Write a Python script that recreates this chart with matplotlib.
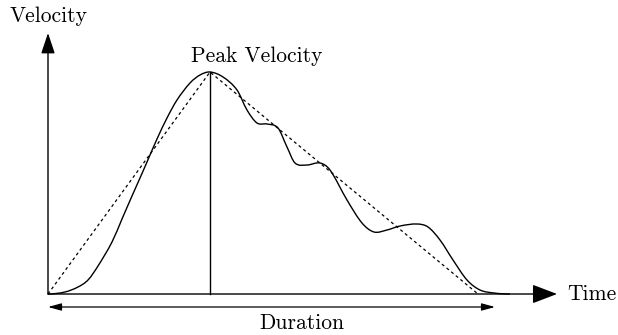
import numpy as np
import matplotlib
matplotlib.use("Agg")
import matplotlib.pyplot as plt
from matplotlib.path import Path
from matplotlib.patches import PathPatch, FancyArrowPatch

plt.rcParams['font.family'] = ['cmr10', 'DejaVu Serif']
plt.rcParams['mathtext.fontset'] = 'cm'
plt.rcParams['axes.unicode_minus'] = False

# Velocity profile of a movement (time, velocity) in arbitrary units
time = [0.00, 0.17, 0.30, 0.40, 0.50, 0.64, 0.74, 0.84, 0.92, 0.99, 1.09,
        1.19, 1.29, 1.42, 1.52, 1.62,
        1.75, 1.89, 1.99, 2.09, 2.19, 2.30, 2.39, 2.47, 2.59, 2.72, 2.82,
        2.99, 3.14, 3.26, 3.39, 3.52, 3.69, 3.80, 3.92, 4.05, 4.19, 4.32,
        4.46, 4.62]
velocity = [0.00, 0.02, 0.07, 0.14, 0.28, 0.52, 0.75, 0.98, 1.16, 1.32, 1.55,
            1.76, 1.94, 2.11, 2.19, 2.22,
            2.17, 2.04, 1.84, 1.71, 1.70, 1.66, 1.47, 1.31, 1.29, 1.31, 1.24,
            0.94, 0.71, 0.62, 0.64, 0.68, 0.70, 0.67, 0.54, 0.34, 0.14, 0.04,
            0.01, 0.00]

# Triangular approximation: start, peak, end
tri_time = [0.00, 1.62, 4.30]
tri_velocity = [0.00, 2.22, 0.00]

peak_time = 1.62
peak_velocity = 2.22
duration = (0.00, 4.47)


def smooth_path(xs, ys):
    """Cubic Hermite curve y(x) through the points, as Bezier segments."""
    x = np.asarray(xs, float)
    y = np.asarray(ys, float)
    n = len(x)
    slope = np.zeros(n)
    for i in range(1, n - 1):
        slope[i] = (y[i + 1] - y[i - 1]) / (x[i + 1] - x[i - 1])
    verts = [(x[0], y[0])]
    codes = [Path.MOVETO]
    for i in range(n - 1):
        dx = x[i + 1] - x[i]
        verts += [(x[i] + dx / 3, y[i] + slope[i] * dx / 3),
                  (x[i + 1] - dx / 3, y[i + 1] - slope[i + 1] * dx / 3),
                  (x[i + 1], y[i + 1])]
        codes += [Path.CURVE4] * 3
    return Path(verts, codes)


fig = plt.figure(figsize=(6.18, 3.35), dpi=100)
ax = fig.add_axes([0, 0, 1, 1])
ax.set_xlim(-0.48, 5.70)
ax.set_ylim(-0.41, 2.94)
ax.axis('off')

# velocity curve
ax.add_patch(PathPatch(smooth_path(time, velocity), fill=False,
                       edgecolor='black', lw=1.0))

# triangular approximation
ax.plot(tri_time, tri_velocity, color='black', lw=0.9,
        linestyle=(0, (2.4, 2.4)))

# peak marker line
ax.plot([peak_time, peak_time], [0, peak_velocity], color='black', lw=1.0)

# axes with arrow heads
ax.add_patch(FancyArrowPatch((0, 0), (5.09, 0),
                             arrowstyle='-|>,head_length=1.1,head_width=0.42',
                             mutation_scale=14, color='black', lw=1.0,
                             shrinkA=0, shrinkB=0))
ax.add_patch(FancyArrowPatch((0, 0), (0, 2.61),
                             arrowstyle='-|>,head_length=0.9,head_width=0.3',
                             mutation_scale=14, color='black', lw=1.0,
                             shrinkA=0, shrinkB=0))

# duration arrow
ax.add_patch(FancyArrowPatch((duration[0], -0.13), (duration[1], -0.13),
                             arrowstyle='<|-|>,head_length=0.8,head_width=0.22',
                             mutation_scale=10, color='black', lw=0.9,
                             shrinkA=0, shrinkB=0))

fs = 15.5
ax.text(0.01, 2.78, 'Velocity', ha='center', va='center', fontsize=fs)
ax.text(2.09, 2.38, 'Peak Velocity', ha='center', va='center', fontsize=fs)
ax.text(5.19, 0.0, 'Time', ha='left', va='center', fontsize=fs)
ax.text(2.54, -0.29, 'Duration', ha='center', va='center', fontsize=fs)

fig.savefig('out.png', dpi=100, facecolor='white')
